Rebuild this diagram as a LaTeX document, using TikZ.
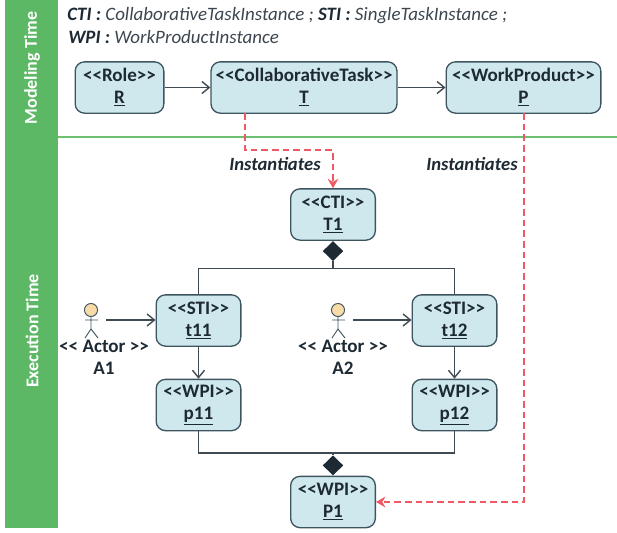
\documentclass[tikz,border=0pt]{standalone}
\usepackage{fontspec}
\setmainfont{Carlito}
\usepackage{xcolor}
\usetikzlibrary{
    arrows.meta,
    shapes.geometric,
    positioning
}
\definecolor{barGreen}{HTML}{5CB865}
\definecolor{lineGreen}{HTML}{6CC070}
\definecolor{boxFill}{HTML}{CFE8EE}
\definecolor{boxLine}{HTML}{3E5560}
\definecolor{inkDark}{HTML}{1E2A33}
\definecolor{inkGrey}{HTML}{3C4650}
\definecolor{dashRed}{HTML}{EE5A64}
\definecolor{headSkin}{HTML}{F8DCA8}
\tikzset{
    umlbox/.style={draw=boxLine, fill=boxFill, line width=1pt, rounded corners=7pt, align=center,
        inner sep=0pt, minimum height=38.5pt, text=inkDark, font=\fontsize{14.3}{16.5}\selectfont\bfseries},
    link/.style={draw=inkDark!85, line width=1.05pt},
    flow/.style={link, -{Straight Barb[length=5.5pt,width=9pt]}},
    instance/.style={draw=dashRed, line width=1pt, dash pattern=on 5pt off 3pt},
    instancetip/.style={instance, -{Stealth[length=7pt,width=8pt]}},
    joint/.style={diamond, fill=inkDark, inner sep=0pt, minimum width=15.5pt, minimum height=15pt},
    phase/.style={rotate=90, text=white, font=\fontsize{13.5}{15}\selectfont\bfseries},
    tag/.style={text=inkDark, font=\fontsize{14}{16}\selectfont\bfseries\itshape},
    actorname/.style={inner sep=0pt, text=inkDark, font=\fontsize{14.3}{16}\selectfont\bfseries, align=center},
    legend/.style={anchor=west, inner sep=0pt, text=inkGrey, font=\fontsize{14.2}{16}\selectfont\itshape}
}
\newcommand{\legendkey}[1]{\textcolor{inkDark}{\textbf{#1}}}
\begin{document}
\begin{tikzpicture}[x=0.75pt, y=-0.75pt]
    \useasboundingbox (0, 0) rectangle (617, 532);
    % phases
    \fill[barGreen] (5, 0) rectangle (58, 528);
    \node[phase] (modeling) at (32, 68) {Modeling Time};
    \node[phase] (execution) at (32, 331) {Execution Time};
    \coordinate (sepLeft) at (58, 137);
    \coordinate (sepRight) at (617, 137);
    \draw[lineGreen, line width=1.1pt] (sepLeft) -- (sepRight);
    % legend
    \node[legend] (legendA) at (67, 16) {\legendkey{CTI :} CollaborativeTaskInstance ; \legendkey{STI :} SingleTaskInstance ;};
    \node[legend] (legendB) at (68, 37) {\legendkey{WPI :} WorkProductInstance};
    % modeling time
    \node[umlbox, minimum width=66.5pt] (role) at (119.5, 87.5) {<{}<Role>{}>\\\underline{R}};
    \node[umlbox, minimum width=139.5pt] (task) at (304, 87.5) {<{}<CollaborativeTask>{}>\\\underline{T}};
    \node[umlbox, minimum width=116pt] (product) at (523.5, 87.5) {<{}<WorkProduct>{}>\\\underline{P}};
    \draw[flow] (role) -- (task);
    \draw[flow] (task) -- (product);
    % execution time
    \node[umlbox, minimum width=63.5pt] (cti) at (333, 214.5) {<{}<CTI>{}>\\\underline{T1}};
    \node[umlbox, minimum width=63.5pt] (stiA) at (198.5, 320.5) {<{}<STI>{}>\\\underline{t11}};
    \node[umlbox, minimum width=63.5pt] (stiB) at (454.5, 320.5) {<{}<STI>{}>\\\underline{t12}};
    \node[umlbox, minimum width=63.5pt] (wpiA) at (198.5, 405) {<{}<WPI>{}>\\\underline{p11}};
    \node[umlbox, minimum width=63.5pt] (wpiB) at (454.5, 405) {<{}<WPI>{}>\\\underline{p12}};
    \node[umlbox, minimum width=63.5pt] (wpiAll) at (333, 502) {<{}<WPI>{}>\\\underline{P1}};
    \draw[flow] (stiA) -- (wpiA);
    \draw[flow] (stiB) -- (wpiB);
    % aggregations
    \node[joint, below=0pt of cti] (topJoint) {};
    \node[joint, above=0pt of wpiAll] (lowJoint) {};
    \draw[link] (topJoint.south) -- ++(0, 7) -| (stiA.north);
    \draw[link] (topJoint.south) -- ++(0, 7) -| (stiB.north);
    \draw[link] (lowJoint.north) -- ++(0, -2) -| (wpiA.south);
    \draw[link] (lowJoint.north) -- ++(0, -2) -| (wpiB.south);
    % instantiation
    \coordinate (taskDrop) at (245, 113);
    \coordinate (productDrop) at (524, 113);
    \draw[instancetip] (taskDrop) |- (333, 150) -- (cti.north);
    \draw[instancetip] (productDrop) |- (wpiAll.east);
    \node[tag] (instA) at (275, 164) {Instantiates};
    \node[tag] (instB) at (472, 164) {Instantiates};
    % actors
    \foreach \name/\px/\tipnode/\lblx/\idx in {A1/91/stiA/104/1, A2/338/stiB/343/2} {
        \begin{scope}[shift={(\px, 0)}]
            \draw[boxLine, fill=headSkin, line width=0.7pt] (0, 310) circle (4.9pt);
            \draw[boxLine, line width=0.7pt]
                (0, 317) -- (0, 329)
                (-6, 320) -- (7, 320)
                (0, 329) -- (-6, 338)
                (0, 329) -- (7, 338);
            \coordinate (hand\idx) at (15, 320);
        \end{scope}
        \draw[flow] (hand\idx) -- (hand\idx -| \tipnode.west);
        \node[actorname] (actor\idx) at (\lblx, 346) {<{}< Actor >{}>};
        \node[actorname, below=7pt of actor\idx] (name\idx) {\name};
    }
\end{tikzpicture}
\end{document}
